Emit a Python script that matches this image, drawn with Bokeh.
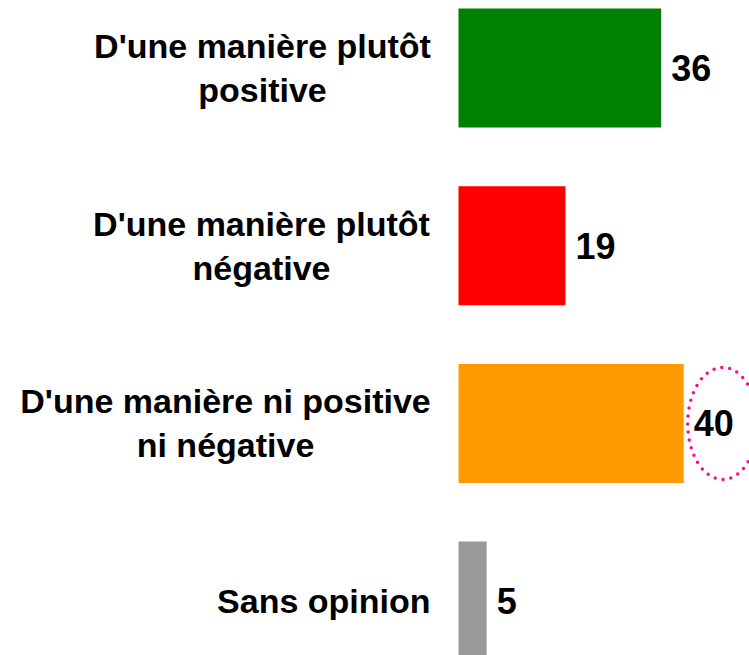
from bokeh.plotting import figure
from bokeh.models import Range1d, ColumnDataSource
from bokeh.embed import file_html
from bokeh.resources import INLINE
from bokeh.core.properties import value

# ---- data ----
categories = [
    "D'une manière plutôt\npositive",
    "D'une manière plutôt\nnégative",
    "D'une manière ni positive\nni négative",
    "Sans opinion",
]
values = [36, 19, 40, 5]
colors = ["#008000", "#FF0000", "#FF9900", "#999999"]
highlighted = "D'une manière ni positive\nni négative"

# ---- layout (pixels) ----
W, H = 749, 655
PX_PER_UNIT = 5.63
BAR_START_PX = 458
ROW_PX = 177.7
FIRST_ROW_PX = 67.5
BAR_PX = 119
LINE_GAP = 44
# horizontal centre of each label block relative to bar start (None = right aligned)
label_centre_px = [-196, -197, -233, None]
FONT = value("Liberation Sans")

idx = list(range(len(categories)))

p = figure(width=W, height=H, output_backend="svg", toolbar_location=None,
           x_range=Range1d(-BAR_START_PX / PX_PER_UNIT, (W - BAR_START_PX) / PX_PER_UNIT),
           y_range=Range1d((H - FIRST_ROW_PX) / ROW_PX, -FIRST_ROW_PX / ROW_PX),
           min_border=0)
p.axis.visible = False
p.grid.visible = False
p.outline_line_color = None
p.background_fill_color = "white"
p.border_fill_color = "white"

src = ColumnDataSource(dict(y=idx, v=values, c=colors, lbl=[str(v) for v in values]))
p.hbar(y="y", left=0, right="v", height=BAR_PX / ROW_PX, fill_color="c",
       line_color=None, source=src)
p.text(x="v", y="y", text="lbl", x_offset=10, text_align="left", text_baseline="middle",
       text_font=FONT, text_font_style="bold", text_font_size="36px",
       text_color="black", source=src)

# category labels, one text per line
for i, cat in enumerate(categories):
    lines = cat.split("\n")
    n = len(lines)
    for k, line in enumerate(lines):
        dy = (k - (n - 1) / 2) * LINE_GAP
        if label_centre_px[i] is None:
            xo, align = -28, "right"
        else:
            xo, align = label_centre_px[i], "center"
        p.text(x=[0], y=[i], text=[line], x_offset=xo, y_offset=dy,
               text_align=align, text_baseline="middle",
               text_font=FONT, text_font_style="bold", text_font_size="34px",
               text_color="black")

# dotted highlight ellipse around the value
h = categories.index(highlighted)
p.ellipse(x=[values[h] + 39 / PX_PER_UNIT], y=[h], width=70, height=112,
          width_units="screen", height_units="screen",
          fill_color=None, line_color="#FF0A8C", line_width=3.5,
          line_dash="0 8", line_cap="round")

open("out.html", "w").write(file_html(p, INLINE))
